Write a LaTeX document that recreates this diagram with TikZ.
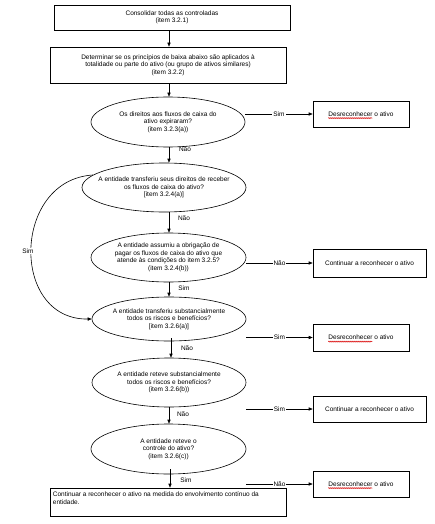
\documentclass[tikz,border=0pt]{standalone}
\usepackage{fontspec}
\setmainfont{Liberation Sans}
\usetikzlibrary{shapes.geometric,arrows.meta,decorations.pathmorphing}
\begin{document}
\begin{tikzpicture}[x=1pt,y=-1pt,
  every node/.style={font=\fontsize{6.5}{7.5}\selectfont, inner sep=0pt},
  box/.style={draw, line width=0.6pt, minimum width=#1, align=center},
  ell/.style={draw, line width=0.6pt, ellipse},
  arr/.style={line width=0.6pt, -{Triangle[length=4pt,width=3.2pt]}},
  lbl/.style={fill=white, inner sep=1pt},
  wavy/.style={red!85!black, line width=0.5pt, decorate, decoration={snake, amplitude=0.6pt, segment length=2pt}}]
\useasboundingbox[fill=white] (0,0) rectangle (435,524);
% main column
\node[box=236pt, minimum height=25pt] (b1) at (172,17.5) {Consolidar todas as controladas\\(item 3.2.1)};
\node[box=236pt, minimum height=36pt] (b2) at (168,65) {Determinar se os princípios de baixa abaixo são aplicados à\\totalidade ou parte do ativo (ou grupo de ativos similares)\\(item 3.2.2)};
\node[ell, minimum width=154pt, minimum height=50pt] (e1) at (168,122) {};
\node[align=center] (e1t) at (e1) {Os direitos aos fluxos de caixa do\\ativo expiraram?\\(item 3.2.3(a))};
\node[ell, minimum width=164pt, minimum height=49pt] (e2) at (164,187.5) {};
\node[align=center] (e2t) at (e2) {A entidade transferiu seus direitos de receber\\os fluxos de caixa do ativo?\\{[}item 3.2.4(a){]}};
\node[ell, minimum width=155pt, minimum height=49pt] (e3) at (168.5,257.5) {};
\node[align=center] (e3t) at (e3) {A entidade assumiu a obrigação de\\pagar os fluxos de caixa do ativo que\\atende às condições do item 3.2.5?\\(item 3.2.4(b))};
\node[ell, minimum width=154pt, minimum height=44pt] (e4) at (169,319) {};
\node[align=center] (e4t) at (e4) {A entidade transferiu substancialmente\\todos os riscos e benefícios?\\{[}item 3.2.6(a){]}};
\node[ell, minimum width=154pt, minimum height=49pt] (e5) at (169,382.5) {};
\node[align=center] (e5t) at (e5) {A entidade reteve substancialmente\\todos os riscos e benefícios?\\(item 3.2.6(b))};
\node[ell, minimum width=155pt, minimum height=50pt] (e6) at (168.5,449) {};
\node[align=center] (e6t) at (e6) {A entidade reteve o\\controle do ativo?\\(item 3.2.6(c))};
\node[draw, line width=0.6pt, minimum width=236pt, minimum height=28pt] (f) at (168,502) {};
\node[anchor=north west, align=left] (ft) at ([xshift=3pt,yshift=-4pt]f.north west) {Continuar a reconhecer o ativo na medida do envolvimento contínuo da\\entidade.};
% right column
\node[draw, line width=0.6pt, minimum width=96pt, minimum height=26pt] (d1) at (361,114) {};
\node (d1t) at (d1) {Desreconhecer o ativo};
\node[box=113pt, minimum height=28pt] (c1) at (369.5,263) {Continuar a reconhecer o ativo};
\node[draw, line width=0.6pt, minimum width=96pt, minimum height=27pt] (d2) at (361,337.5) {};
\node (d2t) at (d2) {Desreconhecer o ativo};
\node[box=113pt, minimum height=26pt] (c2) at (369.5,409) {Continuar a reconhecer o ativo};
\node[draw, line width=0.6pt, minimum width=96pt, minimum height=26pt] (d3) at (361,484) {};
\node (d3t) at (d3) {Desreconhecer o ativo};
\draw[wavy] ([yshift=-1.8pt]d1t.base west) -- ([xshift=44pt,yshift=-1.8pt]d1t.base west);
\draw[wavy] ([yshift=-1.8pt]d2t.base west) -- ([xshift=44pt,yshift=-1.8pt]d2t.base west);
\draw[wavy] ([yshift=-1.8pt]d3t.base west) -- ([xshift=44pt,yshift=-1.8pt]d3t.base west);
% vertical arrows
\draw[arr] (b1.south -| 169,0) -- (b2.north -| 169,0);
\draw[arr] (b2.south -| 169,0) -- (e1.north -| 169,0);
\draw[arr] (e1.south -| 169,0) -- (e2.north -| 169,0);
\draw[arr] (e2.south -| 169,0) -- (e3.north -| 169,0);
\draw[arr] (e3.south -| 169,0) -- (e4.north -| 169,0);
\draw[arr] ([yshift=3pt]e4.south -| 171,0) -- (e5.north -| 171,0);
\draw[arr] (e5.south -| 169,0) -- (e6.north -| 169,0);
\draw[arr] ([yshift=5pt]e6.south -| 170,0) -- (f.north -| 170,0);
\node (n1) at (185,149) {Não};
\node (n2) at (184,218) {Não};
\node (s3) at (184,288) {Sim};
\node (n4) at (187,348) {Não};
\node (n5) at (183,414) {Não};
\node (s6) at (186,480) {Sim};
% horizontal arrows
\draw[arr] (e1.east |- d1.west) -- node[lbl] {Sim} (d1.west);
\draw[arr] (e3.east |- c1.west) -- node[lbl] {Não} (c1.west);
\draw[arr] (e4.east |- d2.west) -- node[lbl] {Sim} (d2.west);
\draw[arr] (e5.east |- c2.west) -- node[lbl] {Sim} (c2.west);
\draw[arr] (e6.east |- d3.west) -- node[lbl] {Não} (d3.west);
% curved Sim
\draw[arr] (e2.170) .. controls (12,180) and (10,320) .. (e4.west);
\node[lbl] (sc) at (28,251) {Sim};
\end{tikzpicture}
\end{document}
